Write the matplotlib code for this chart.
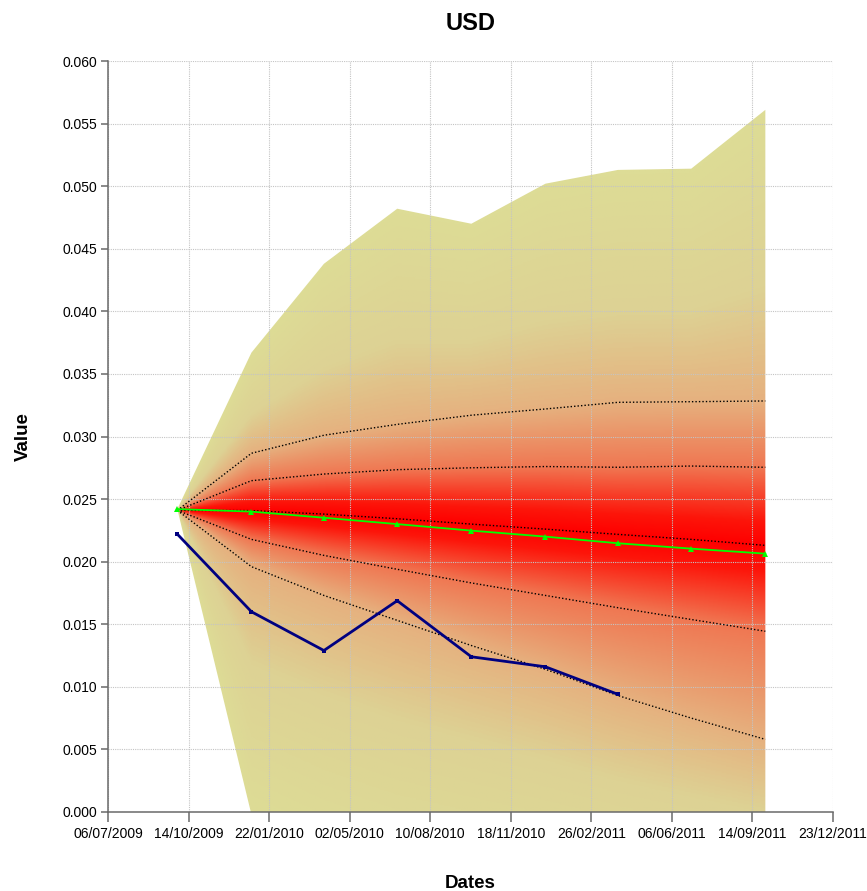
import datetime as dt

import matplotlib
matplotlib.use("Agg")
import matplotlib.pyplot as plt
import matplotlib.dates as mdates
import numpy as np
from matplotlib.colors import LinearSegmentedColormap
from matplotlib.patches import Polygon
from matplotlib.ticker import FixedLocator, FormatStrFormatter

plt.rcParams['font.family'] = ['Liberation Sans', 'DejaVu Sans']

# quarterly forecast dates
dates = [dt.date(2009, 9, 30), dt.date(2009, 12, 31), dt.date(2010, 3, 31),
         dt.date(2010, 6, 30), dt.date(2010, 9, 30), dt.date(2010, 12, 31),
         dt.date(2011, 3, 31), dt.date(2011, 6, 30), dt.date(2011, 9, 30)]

# simulated envelope (min / max)
env_hi = [0.0242, 0.0367, 0.0438, 0.0482, 0.0470, 0.0502, 0.0513, 0.0514, 0.0561]
env_lo = [0.0242, -0.0002, -0.0030, -0.0050, -0.0060, -0.0070, -0.0080, -0.0085, -0.0090]

# percentile lines
q_hi_out = [0.0241, 0.02866, 0.0301, 0.03097, 0.0317, 0.0322, 0.03273, 0.03278, 0.03284]
q_hi_in = [0.0241, 0.02647, 0.0270, 0.02735, 0.0275, 0.0276, 0.02754, 0.02764, 0.02754]
q_med = [0.0241, 0.02408, 0.0238, 0.02343, 0.0230, 0.0226, 0.02218, 0.02178, 0.0213]
q_lo_in = [0.0241, 0.02178, 0.0205, 0.01939, 0.0183, 0.0173, 0.01632, 0.01538, 0.01444]
q_lo_out = [0.0241, 0.0196, 0.0173, 0.01531, 0.0133, 0.0114, 0.0093, 0.0075, 0.0058]

# forward curve and realised values
forward = [0.0242, 0.0240, 0.02351, 0.0230, 0.02248, 0.0220, 0.02147, 0.02104, 0.02064]
realised = [0.0222, 0.0160, 0.0129, 0.01688, 0.0124, 0.0116, 0.0094]

x_ticks = [dt.date(2009, 7, 6) + dt.timedelta(days=100 * k) for k in range(10)]
y_ticks = [0.005 * k for k in range(13)]

xd = mdates.date2num(dates)

fig = plt.figure(figsize=(8.67, 8.91), dpi=100)
ax = fig.add_axes([0.1246, 0.0887, 0.8362, 0.8428])

# fan shading: colour by position between the percentile lines
fan_cmap = LinearSegmentedColormap.from_list('fan', [
    (0.00, '#ff0000'),
    (0.15, '#fd150a'),
    (0.50, '#f07752'),
    (0.80, '#e6b07e'),
    (0.88, '#ddd294'),
    (1.00, '#dddc96'),
])
levels = np.array([1.0, 0.8, 0.5, 0.0, 0.5, 0.8, 1.0])
gx = np.linspace(xd[0], xd[-1], 500)
gy = np.linspace(-0.01, 0.06, 700)
shade = np.zeros((gy.size, gx.size))
for j, xv in enumerate(gx):
    nodes = [np.interp(xv, xd, s) for s in
             (env_lo, q_lo_out, q_lo_in, q_med, q_hi_in, q_hi_out, env_hi)]
    nodes = np.maximum.accumulate(np.array(nodes) + np.arange(7) * 1e-9)
    shade[:, j] = np.interp(gy, nodes, levels)
im = ax.imshow(shade, cmap=fan_cmap, vmin=0, vmax=1, origin='lower',
               extent=[gx[0], gx[-1], gy[0], gy[-1]], aspect='auto',
               interpolation='bilinear', zorder=0)
outline = Polygon(np.column_stack([np.r_[xd, xd[::-1]], np.r_[env_hi, env_lo[::-1]]]),
                  closed=True, facecolor='none', edgecolor='none',
                  transform=ax.transData)
ax.add_patch(outline)
im.set_clip_path(outline)

for q in (q_hi_out, q_hi_in, q_med, q_lo_in, q_lo_out):
    ax.plot(xd, q, color='black', lw=1.0, ls=(0, (1, 1.5)), zorder=3)

ax.plot(xd, forward, color='#00ff00', lw=1.3, marker='^', ms=4.5,
        markeredgewidth=0, zorder=4)
ax.plot(xd[:len(realised)], realised, color='#000080', lw=2.0, marker='s', ms=3.5,
        markeredgewidth=0, zorder=5)

ax.set_xlim(mdates.date2num(x_ticks[0]), mdates.date2num(x_ticks[-1]))
ax.set_ylim(0, 0.06)
ax.xaxis.set_major_locator(FixedLocator(mdates.date2num(x_ticks)))
ax.xaxis.set_major_formatter(mdates.DateFormatter('%d/%m/%Y'))
ax.yaxis.set_major_locator(FixedLocator(y_ticks))
ax.yaxis.set_major_formatter(FormatStrFormatter('%.3f'))

ax.set_axisbelow(False)
ax.grid(True, color='#c4c4c4', lw=0.8, ls=(0, (1, 1)))
for side in ('top', 'right'):
    ax.spines[side].set_visible(False)
for side in ('left', 'bottom'):
    ax.spines[side].set_color('#6a6a6a')
    ax.spines[side].set_linewidth(1.1)
    ax.spines[side].set_zorder(6)
ax.tick_params(axis='x', length=7, width=1.1, color='#6a6a6a', labelsize=10, pad=4)
ax.tick_params(axis='y', length=5, width=1.1, color='#6a6a6a', labelsize=10, pad=3)

ax.set_title('USD', fontsize=17, fontweight='bold', pad=22)
ax.set_xlabel('Dates', fontsize=13.5, fontweight='bold', labelpad=24)
ax.set_ylabel('Value', fontsize=13.5, fontweight='bold', labelpad=22)

fig.savefig('out.png', dpi=100)
